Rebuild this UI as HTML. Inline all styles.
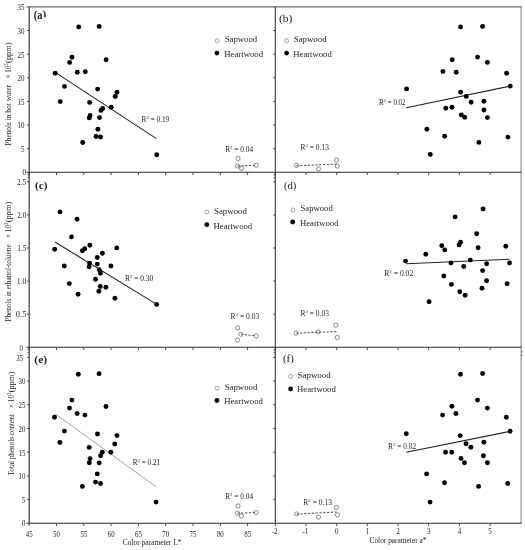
<!DOCTYPE html>
<html><head><meta charset="utf-8"><title>Figure</title>
<style>html,body{margin:0;padding:0;background:#fff}svg{display:block}text{font-family:"Liberation Serif",serif;fill:#222}</style></head><body>
<svg width="525" height="550" viewBox="0 0 525 550">
<rect x="0" y="0" width="525" height="550" fill="#fff"/>
<line x1="26.4" y1="6.8" x2="521.7" y2="6.8" stroke="#6a6a6a" stroke-width="1.2" />
<line x1="521.1" y1="6.8" x2="521.1" y2="523.3" stroke="#888" stroke-width="1.1" />
<line x1="29.2" y1="6.8" x2="29.2" y2="523.3" stroke="#4a4a4a" stroke-width="1.3" />
<line x1="275.3" y1="6.8" x2="275.3" y2="523.3" stroke="#333" stroke-width="1.1" />
<line x1="26.6" y1="172.3" x2="521.5" y2="172.3" stroke="#2a2a2a" stroke-width="1.1" />
<line x1="26.6" y1="347.3" x2="521.5" y2="347.3" stroke="#2a2a2a" stroke-width="1.1" />
<line x1="26.6" y1="523.3" x2="521.5" y2="523.3" stroke="#2a2a2a" stroke-width="1.1" />
<line x1="29.2" y1="172.3" x2="29.2" y2="175.1" stroke="#333" stroke-width="0.9" />
<line x1="56.5" y1="172.3" x2="56.5" y2="175.1" stroke="#333" stroke-width="0.9" />
<line x1="83.8" y1="172.3" x2="83.8" y2="175.1" stroke="#333" stroke-width="0.9" />
<line x1="111.1" y1="172.3" x2="111.1" y2="175.1" stroke="#333" stroke-width="0.9" />
<line x1="138.4" y1="172.3" x2="138.4" y2="175.1" stroke="#333" stroke-width="0.9" />
<line x1="165.7" y1="172.3" x2="165.7" y2="175.1" stroke="#333" stroke-width="0.9" />
<line x1="193.0" y1="172.3" x2="193.0" y2="175.1" stroke="#333" stroke-width="0.9" />
<line x1="220.3" y1="172.3" x2="220.3" y2="175.1" stroke="#333" stroke-width="0.9" />
<line x1="247.6" y1="172.3" x2="247.6" y2="175.1" stroke="#333" stroke-width="0.9" />
<line x1="275.3" y1="172.3" x2="275.3" y2="175.1" stroke="#333" stroke-width="0.9" />
<line x1="306.0" y1="172.3" x2="306.0" y2="175.1" stroke="#333" stroke-width="0.9" />
<line x1="336.7" y1="172.3" x2="336.7" y2="175.1" stroke="#333" stroke-width="0.9" />
<line x1="367.3" y1="172.3" x2="367.3" y2="175.1" stroke="#333" stroke-width="0.9" />
<line x1="398.0" y1="172.3" x2="398.0" y2="175.1" stroke="#333" stroke-width="0.9" />
<line x1="428.7" y1="172.3" x2="428.7" y2="175.1" stroke="#333" stroke-width="0.9" />
<line x1="459.4" y1="172.3" x2="459.4" y2="175.1" stroke="#333" stroke-width="0.9" />
<line x1="490.1" y1="172.3" x2="490.1" y2="175.1" stroke="#333" stroke-width="0.9" />
<line x1="29.2" y1="347.3" x2="29.2" y2="350.1" stroke="#333" stroke-width="0.9" />
<line x1="56.5" y1="347.3" x2="56.5" y2="350.1" stroke="#333" stroke-width="0.9" />
<line x1="83.8" y1="347.3" x2="83.8" y2="350.1" stroke="#333" stroke-width="0.9" />
<line x1="111.1" y1="347.3" x2="111.1" y2="350.1" stroke="#333" stroke-width="0.9" />
<line x1="138.4" y1="347.3" x2="138.4" y2="350.1" stroke="#333" stroke-width="0.9" />
<line x1="165.7" y1="347.3" x2="165.7" y2="350.1" stroke="#333" stroke-width="0.9" />
<line x1="193.0" y1="347.3" x2="193.0" y2="350.1" stroke="#333" stroke-width="0.9" />
<line x1="220.3" y1="347.3" x2="220.3" y2="350.1" stroke="#333" stroke-width="0.9" />
<line x1="247.6" y1="347.3" x2="247.6" y2="350.1" stroke="#333" stroke-width="0.9" />
<line x1="275.3" y1="347.3" x2="275.3" y2="350.1" stroke="#333" stroke-width="0.9" />
<line x1="306.0" y1="347.3" x2="306.0" y2="350.1" stroke="#333" stroke-width="0.9" />
<line x1="336.7" y1="347.3" x2="336.7" y2="350.1" stroke="#333" stroke-width="0.9" />
<line x1="367.3" y1="347.3" x2="367.3" y2="350.1" stroke="#333" stroke-width="0.9" />
<line x1="398.0" y1="347.3" x2="398.0" y2="350.1" stroke="#333" stroke-width="0.9" />
<line x1="428.7" y1="347.3" x2="428.7" y2="350.1" stroke="#333" stroke-width="0.9" />
<line x1="459.4" y1="347.3" x2="459.4" y2="350.1" stroke="#333" stroke-width="0.9" />
<line x1="490.1" y1="347.3" x2="490.1" y2="350.1" stroke="#333" stroke-width="0.9" />
<line x1="29.2" y1="523.3" x2="29.2" y2="526.1" stroke="#333" stroke-width="0.9" />
<line x1="56.5" y1="523.3" x2="56.5" y2="526.1" stroke="#333" stroke-width="0.9" />
<line x1="83.8" y1="523.3" x2="83.8" y2="526.1" stroke="#333" stroke-width="0.9" />
<line x1="111.1" y1="523.3" x2="111.1" y2="526.1" stroke="#333" stroke-width="0.9" />
<line x1="138.4" y1="523.3" x2="138.4" y2="526.1" stroke="#333" stroke-width="0.9" />
<line x1="165.7" y1="523.3" x2="165.7" y2="526.1" stroke="#333" stroke-width="0.9" />
<line x1="193.0" y1="523.3" x2="193.0" y2="526.1" stroke="#333" stroke-width="0.9" />
<line x1="220.3" y1="523.3" x2="220.3" y2="526.1" stroke="#333" stroke-width="0.9" />
<line x1="247.6" y1="523.3" x2="247.6" y2="526.1" stroke="#333" stroke-width="0.9" />
<line x1="275.3" y1="523.3" x2="275.3" y2="526.1" stroke="#333" stroke-width="0.9" />
<line x1="306.0" y1="523.3" x2="306.0" y2="526.1" stroke="#333" stroke-width="0.9" />
<line x1="336.7" y1="523.3" x2="336.7" y2="526.1" stroke="#333" stroke-width="0.9" />
<line x1="367.3" y1="523.3" x2="367.3" y2="526.1" stroke="#333" stroke-width="0.9" />
<line x1="398.0" y1="523.3" x2="398.0" y2="526.1" stroke="#333" stroke-width="0.9" />
<line x1="428.7" y1="523.3" x2="428.7" y2="526.1" stroke="#333" stroke-width="0.9" />
<line x1="459.4" y1="523.3" x2="459.4" y2="526.1" stroke="#333" stroke-width="0.9" />
<line x1="490.1" y1="523.3" x2="490.1" y2="526.1" stroke="#333" stroke-width="0.9" />
<line x1="27.1" y1="30.5" x2="29.2" y2="30.5" stroke="#333" stroke-width="0.9" />
<line x1="27.1" y1="54.2" x2="29.2" y2="54.2" stroke="#333" stroke-width="0.9" />
<line x1="27.1" y1="77.8" x2="29.2" y2="77.8" stroke="#333" stroke-width="0.9" />
<line x1="27.1" y1="101.4" x2="29.2" y2="101.4" stroke="#333" stroke-width="0.9" />
<line x1="27.1" y1="125.0" x2="29.2" y2="125.0" stroke="#333" stroke-width="0.9" />
<line x1="27.1" y1="148.7" x2="29.2" y2="148.7" stroke="#333" stroke-width="0.9" />
<line x1="27.1" y1="314.2" x2="29.2" y2="314.2" stroke="#333" stroke-width="0.9" />
<line x1="27.1" y1="281.1" x2="29.2" y2="281.1" stroke="#333" stroke-width="0.9" />
<line x1="27.1" y1="248.0" x2="29.2" y2="248.0" stroke="#333" stroke-width="0.9" />
<line x1="27.1" y1="214.9" x2="29.2" y2="214.9" stroke="#333" stroke-width="0.9" />
<line x1="27.1" y1="181.8" x2="29.2" y2="181.8" stroke="#333" stroke-width="0.9" />
<line x1="27.1" y1="499.6" x2="29.2" y2="499.6" stroke="#333" stroke-width="0.9" />
<line x1="27.1" y1="475.9" x2="29.2" y2="475.9" stroke="#333" stroke-width="0.9" />
<line x1="27.1" y1="452.2" x2="29.2" y2="452.2" stroke="#333" stroke-width="0.9" />
<line x1="27.1" y1="428.5" x2="29.2" y2="428.5" stroke="#333" stroke-width="0.9" />
<line x1="27.1" y1="404.8" x2="29.2" y2="404.8" stroke="#333" stroke-width="0.9" />
<line x1="27.1" y1="381.1" x2="29.2" y2="381.1" stroke="#333" stroke-width="0.9" />
<line x1="27.1" y1="357.4" x2="29.2" y2="357.4" stroke="#333" stroke-width="0.9" />
<line x1="273.2" y1="30.5" x2="275.3" y2="30.5" stroke="#333" stroke-width="0.9" />
<line x1="273.2" y1="54.2" x2="275.3" y2="54.2" stroke="#333" stroke-width="0.9" />
<line x1="273.2" y1="77.8" x2="275.3" y2="77.8" stroke="#333" stroke-width="0.9" />
<line x1="273.2" y1="101.4" x2="275.3" y2="101.4" stroke="#333" stroke-width="0.9" />
<line x1="273.2" y1="125.0" x2="275.3" y2="125.0" stroke="#333" stroke-width="0.9" />
<line x1="273.2" y1="148.7" x2="275.3" y2="148.7" stroke="#333" stroke-width="0.9" />
<line x1="273.2" y1="314.2" x2="275.3" y2="314.2" stroke="#333" stroke-width="0.9" />
<line x1="273.2" y1="281.1" x2="275.3" y2="281.1" stroke="#333" stroke-width="0.9" />
<line x1="273.2" y1="248.0" x2="275.3" y2="248.0" stroke="#333" stroke-width="0.9" />
<line x1="273.2" y1="214.9" x2="275.3" y2="214.9" stroke="#333" stroke-width="0.9" />
<line x1="273.2" y1="181.8" x2="275.3" y2="181.8" stroke="#333" stroke-width="0.9" />
<line x1="273.2" y1="499.6" x2="275.3" y2="499.6" stroke="#333" stroke-width="0.9" />
<line x1="273.2" y1="475.9" x2="275.3" y2="475.9" stroke="#333" stroke-width="0.9" />
<line x1="273.2" y1="452.2" x2="275.3" y2="452.2" stroke="#333" stroke-width="0.9" />
<line x1="273.2" y1="428.5" x2="275.3" y2="428.5" stroke="#333" stroke-width="0.9" />
<line x1="273.2" y1="404.8" x2="275.3" y2="404.8" stroke="#333" stroke-width="0.9" />
<line x1="273.2" y1="381.1" x2="275.3" y2="381.1" stroke="#333" stroke-width="0.9" />
<line x1="273.2" y1="357.4" x2="275.3" y2="357.4" stroke="#333" stroke-width="0.9" />
<line x1="27.6" y1="175.0" x2="29.2" y2="175.0" stroke="#333" stroke-width="0.9" />
<line x1="27.6" y1="177.7" x2="29.2" y2="177.7" stroke="#333" stroke-width="0.9" />
<line x1="27.6" y1="350.0" x2="29.2" y2="350.0" stroke="#333" stroke-width="0.9" />
<line x1="27.6" y1="352.7" x2="29.2" y2="352.7" stroke="#333" stroke-width="0.9" />
<line x1="273.7" y1="175.0" x2="275.3" y2="175.0" stroke="#333" stroke-width="0.9" />
<line x1="273.7" y1="177.7" x2="275.3" y2="177.7" stroke="#333" stroke-width="0.9" />
<line x1="273.7" y1="350.0" x2="275.3" y2="350.0" stroke="#333" stroke-width="0.9" />
<line x1="273.7" y1="352.7" x2="275.3" y2="352.7" stroke="#333" stroke-width="0.9" />
<line x1="521.1" y1="351.8" x2="522.3" y2="351.8" stroke="#333" stroke-width="0.9" />
<line x1="521.1" y1="355.3" x2="522.3" y2="355.3" stroke="#333" stroke-width="0.9" />
<text transform="translate(17.60,10.30) scale(0.9211,1.0)" font-size="7.6" xml:space="preserve">35</text>
<text transform="translate(17.60,33.80) scale(0.9211,1.0)" font-size="7.6" xml:space="preserve">30</text>
<text transform="translate(17.60,57.50) scale(0.9211,1.0)" font-size="7.6" xml:space="preserve">25</text>
<text transform="translate(17.60,81.10) scale(0.9211,1.0)" font-size="7.6" xml:space="preserve">20</text>
<text transform="translate(17.60,104.80) scale(0.9211,1.0)" font-size="7.6" xml:space="preserve">15</text>
<text transform="translate(17.60,128.40) scale(0.9211,1.0)" font-size="7.6" xml:space="preserve">10</text>
<text transform="translate(20.90,151.90) scale(0.9211,1.0)" font-size="7.6" xml:space="preserve">5</text>
<text transform="translate(22.60,175.30) scale(0.9737,1.0)" font-size="7.6" xml:space="preserve">0</text>
<text transform="translate(17.10,184.70) scale(0.9474,1.0)" font-size="7.6" xml:space="preserve">2.5</text>
<text transform="translate(17.20,217.90) scale(0.9684,1.0)" font-size="7.6" xml:space="preserve">2.0</text>
<text transform="translate(17.20,251.10) scale(0.9684,1.0)" font-size="7.6" xml:space="preserve">1.5</text>
<text transform="translate(16.80,284.30) scale(1.0105,1.0)" font-size="7.6" xml:space="preserve">1.0</text>
<text transform="translate(15.80,317.40) scale(1.1158,1.0)" font-size="7.6" xml:space="preserve">0.5</text>
<text transform="translate(19.50,350.80) scale(0.9211,1.0)" font-size="7.6" xml:space="preserve">0</text>
<text transform="translate(16.20,361.40) scale(0.8947,1.0)" font-size="7.6" xml:space="preserve">35</text>
<text transform="translate(18.60,384.30) scale(0.9079,1.0)" font-size="7.6" xml:space="preserve">30</text>
<text transform="translate(18.60,408.10) scale(0.9079,1.0)" font-size="7.6" xml:space="preserve">25</text>
<text transform="translate(18.60,431.80) scale(0.9079,1.0)" font-size="7.6" xml:space="preserve">20</text>
<text transform="translate(18.60,455.60) scale(0.9079,1.0)" font-size="7.6" xml:space="preserve">15</text>
<text transform="translate(18.60,479.40) scale(0.9079,1.0)" font-size="7.6" xml:space="preserve">10</text>
<text transform="translate(21.80,503.10) scale(0.8947,1.0)" font-size="7.6" xml:space="preserve">5</text>
<text transform="translate(21.80,526.30) scale(0.9737,1.0)" font-size="7.6" xml:space="preserve">0</text>
<text transform="translate(25.80,536.55) scale(0.9079,1.0)" font-size="7.6" xml:space="preserve">45</text>
<text transform="translate(53.10,536.55) scale(0.9079,1.0)" font-size="7.6" xml:space="preserve">50</text>
<text transform="translate(80.40,536.55) scale(0.9079,1.0)" font-size="7.6" xml:space="preserve">55</text>
<text transform="translate(107.70,536.55) scale(0.9079,1.0)" font-size="7.6" xml:space="preserve">60</text>
<text transform="translate(135.00,536.55) scale(0.9079,1.0)" font-size="7.6" xml:space="preserve">65</text>
<text transform="translate(162.30,536.55) scale(0.9079,1.0)" font-size="7.6" xml:space="preserve">70</text>
<text transform="translate(189.60,536.55) scale(0.9079,1.0)" font-size="7.6" xml:space="preserve">75</text>
<text transform="translate(216.90,536.55) scale(0.9079,1.0)" font-size="7.6" xml:space="preserve">80</text>
<text transform="translate(244.20,536.55) scale(0.9079,1.0)" font-size="7.6" xml:space="preserve">85</text>
<text transform="translate(271.70,533.75) scale(0.9162,1.0)" font-size="7.6" xml:space="preserve">-2</text>
<text transform="translate(302.38,533.75) scale(0.9162,1.0)" font-size="7.6" xml:space="preserve">-1</text>
<text transform="translate(334.96,533.75) scale(0.9211,1.0)" font-size="7.6" xml:space="preserve">0</text>
<text transform="translate(365.64,533.75) scale(0.9211,1.0)" font-size="7.6" xml:space="preserve">1</text>
<text transform="translate(396.32,533.75) scale(0.9211,1.0)" font-size="7.6" xml:space="preserve">2</text>
<text transform="translate(427.00,533.75) scale(0.9211,1.0)" font-size="7.6" xml:space="preserve">3</text>
<text transform="translate(457.68,533.75) scale(0.9211,1.0)" font-size="7.6" xml:space="preserve">4</text>
<text transform="translate(488.36,533.75) scale(0.9211,1.0)" font-size="7.6" xml:space="preserve">5</text>
<text transform="translate(122.80,545.20) scale(0.9794,1.0)" font-size="7.6" xml:space="preserve">Color parameter L*</text>
<text transform="translate(369.50,543.20) scale(0.9716,1.0)" font-size="7.6" xml:space="preserve">Color parameter a*</text>
<text transform="translate(10.80,145.40) rotate(-90) scale(0.9230,0.97)" font-size="8" xml:space="preserve">Phenols in hot water</text>
<text transform="translate(10.80,78.60) rotate(-90) scale(0.8862,0.97)" font-size="8" xml:space="preserve">× 10<tspan font-size="5.28" dy="-3.20">3</tspan><tspan dy="3.20" font-size="8">&#8203;</tspan></text>
<text transform="translate(10.80,62.90) rotate(-90) scale(1.0435,0.97)" font-size="8" xml:space="preserve">(ppm)</text>
<text transform="translate(10.80,321.60) rotate(-90) scale(0.9072,0.97)" font-size="8" xml:space="preserve">Phenols in ethanol-toluene</text>
<text transform="translate(10.80,237.90) rotate(-90) scale(0.8862,0.97)" font-size="8" xml:space="preserve">× 10<tspan font-size="5.28" dy="-3.20">3</tspan><tspan dy="3.20" font-size="8">&#8203;</tspan></text>
<text transform="translate(10.80,222.20) rotate(-90) scale(1.0435,0.97)" font-size="8" xml:space="preserve">(ppm)</text>
<text transform="translate(13.70,475.50) rotate(-90) scale(0.8915,0.97)" font-size="8" xml:space="preserve">Total phenols content</text>
<text transform="translate(13.70,407.90) rotate(-90) scale(0.8862,0.97)" font-size="8" xml:space="preserve">× 10<tspan font-size="5.28" dy="-3.20">3</tspan><tspan dy="3.20" font-size="8">&#8203;</tspan></text>
<text transform="translate(13.70,392.20) rotate(-90) scale(1.0435,0.97)" font-size="8" xml:space="preserve">(ppm)</text>
<text transform="translate(33.70,19.30) scale(0.9004,1.0)" font-size="11.6" font-weight="bold" xml:space="preserve">(a</text>
<clipPath id="ca"><rect x="42" y="8" width="5" height="9.2"/></clipPath>
<g clip-path="url(#ca)">
<text transform="translate(42.50,19.30) scale(0.9838,1.0)" font-size="11.6" font-weight="bold" xml:space="preserve">)</text>
</g>
<text transform="translate(34.90,189.00) scale(1.0429,1.0)" font-size="10.8" font-weight="bold" xml:space="preserve">(c)</text>
<text transform="translate(34.30,363.30) scale(1.0679,1.0)" font-size="10.8" font-weight="bold" xml:space="preserve">(e)</text>
<text transform="translate(278.90,21.80) scale(1.0800,1.0)" font-size="10.8" xml:space="preserve">(b)</text>
<text transform="translate(283.90,188.70) scale(0.9927,1.0)" font-size="10.8" xml:space="preserve">(d)</text>
<text transform="translate(282.90,362.00) scale(1.0104,1.0)" font-size="10.8" xml:space="preserve">(f)</text>
<circle cx="217.2" cy="40.8" r="2" fill="#fff" stroke="#777" stroke-width="0.7"/>
<circle cx="216.9" cy="53.1" r="2.4" fill="#000"/>
<text transform="translate(224.70,42.20) scale(0.9702,1.0)" font-size="9" xml:space="preserve">Sapwood</text>
<text transform="translate(224.20,56.80) scale(0.9753,1.0)" font-size="9" xml:space="preserve">Heartwood</text>
<circle cx="286.6" cy="40.8" r="2" fill="#fff" stroke="#777" stroke-width="0.7"/>
<circle cx="286.6" cy="53.1" r="2.4" fill="#000"/>
<text transform="translate(293.80,42.20) scale(0.9791,1.0)" font-size="9" xml:space="preserve">Sapwood</text>
<text transform="translate(293.30,56.80) scale(0.9628,1.0)" font-size="9" xml:space="preserve">Heartwood</text>
<circle cx="206.8" cy="212.1" r="2" fill="#fff" stroke="#777" stroke-width="0.7"/>
<circle cx="206.8" cy="224.7" r="2.4" fill="#000"/>
<text transform="translate(214.00,214.10) scale(0.9851,1.0)" font-size="9" xml:space="preserve">Sapwood</text>
<text transform="translate(213.50,228.70) scale(0.9678,1.0)" font-size="9" xml:space="preserve">Heartwood</text>
<circle cx="293.0" cy="210.0" r="2" fill="#fff" stroke="#777" stroke-width="0.7"/>
<circle cx="292.7" cy="222.0" r="2.4" fill="#000"/>
<text transform="translate(300.50,211.40) scale(0.9642,1.0)" font-size="9" xml:space="preserve">Sapwood</text>
<text transform="translate(300.00,226.00) scale(0.9603,1.0)" font-size="9" xml:space="preserve">Heartwood</text>
<circle cx="217.2" cy="388.2" r="2" fill="#fff" stroke="#777" stroke-width="0.7"/>
<circle cx="216.9" cy="400.5" r="2.4" fill="#000"/>
<text transform="translate(224.70,389.60) scale(0.9761,1.0)" font-size="9" xml:space="preserve">Sapwood</text>
<text transform="translate(224.20,404.20) scale(0.9678,1.0)" font-size="9" xml:space="preserve">Heartwood</text>
<circle cx="290.6" cy="376.3" r="2" fill="#fff" stroke="#777" stroke-width="0.7"/>
<circle cx="290.6" cy="388.9" r="2.4" fill="#000"/>
<text transform="translate(297.50,377.70) scale(0.9940,1.0)" font-size="9" xml:space="preserve">Sapwood</text>
<text transform="translate(297.00,392.30) scale(0.9728,1.0)" font-size="9" xml:space="preserve">Heartwood</text>
<text transform="translate(141.60,121.90) scale(0.9529,1.0)" font-size="7.6" fill="#333" xml:space="preserve">R<tspan font-size="5.02" dy="-3.04">2</tspan><tspan dy="3.04" font-size="7.6">&#8203;</tspan> = 0.19</text>
<text transform="translate(225.20,151.60) scale(0.9667,1.0)" font-size="7.6" fill="#333" xml:space="preserve">R<tspan font-size="5.02" dy="-3.04">2</tspan><tspan dy="3.04" font-size="7.6">&#8203;</tspan> = 0.04</text>
<text transform="translate(379.10,104.60) scale(0.9150,1.0)" font-size="7.6" fill="#333" xml:space="preserve">R<tspan font-size="5.02" dy="-3.04">2</tspan><tspan dy="3.04" font-size="7.6">&#8203;</tspan> = 0.02</text>
<text transform="translate(300.50,149.60) scale(0.9840,1.0)" font-size="7.6" fill="#333" xml:space="preserve">R<tspan font-size="5.02" dy="-3.04">2</tspan><tspan dy="3.04" font-size="7.6">&#8203;</tspan> = 0.13</text>
<text transform="translate(124.90,280.80) scale(0.9840,1.0)" font-size="7.6" fill="#333" xml:space="preserve">R<tspan font-size="5.02" dy="-3.04">2</tspan><tspan dy="3.04" font-size="7.6">&#8203;</tspan> = 0.30</text>
<text transform="translate(230.50,319.10) scale(0.9944,1.0)" font-size="7.6" fill="#333" xml:space="preserve">R<tspan font-size="5.02" dy="-3.04">2</tspan><tspan dy="3.04" font-size="7.6">&#8203;</tspan> = 0.03</text>
<text transform="translate(384.20,276.20) scale(1.0013,1.0)" font-size="7.6" fill="#333" xml:space="preserve">R<tspan font-size="5.02" dy="-3.04">2</tspan><tspan dy="3.04" font-size="7.6">&#8203;</tspan> = 0.02</text>
<text transform="translate(300.50,316.20) scale(0.9840,1.0)" font-size="7.6" fill="#333" xml:space="preserve">R<tspan font-size="5.02" dy="-3.04">2</tspan><tspan dy="3.04" font-size="7.6">&#8203;</tspan> = 0.03</text>
<text transform="translate(132.70,464.80) scale(0.9495,1.0)" font-size="7.6" fill="#333" xml:space="preserve">R<tspan font-size="5.02" dy="-3.04">2</tspan><tspan dy="3.04" font-size="7.6">&#8203;</tspan> = 0.21</text>
<text transform="translate(225.20,499.20) scale(0.9667,1.0)" font-size="7.6" fill="#333" xml:space="preserve">R<tspan font-size="5.02" dy="-3.04">2</tspan><tspan dy="3.04" font-size="7.6">&#8203;</tspan> = 0.04</text>
<text transform="translate(388.00,448.70) scale(0.9737,1.0)" font-size="7.6" fill="#333" xml:space="preserve">R<tspan font-size="5.02" dy="-3.04">2</tspan><tspan dy="3.04" font-size="7.6">&#8203;</tspan> = 0.02</text>
<text transform="translate(303.30,504.60) scale(0.9944,1.0)" font-size="7.6" fill="#333" xml:space="preserve">R<tspan font-size="5.02" dy="-3.04">2</tspan><tspan dy="3.04" font-size="7.6">&#8203;</tspan> = 0.13</text>
<line x1="55.6" y1="72.6" x2="156.4" y2="138.6" stroke="#222" stroke-width="1.1" />
<line x1="406.3" y1="107.7" x2="510.3" y2="86.1" stroke="#222" stroke-width="1.1" />
<line x1="54.9" y1="242.0" x2="156.7" y2="304.4" stroke="#222" stroke-width="1.1" />
<line x1="406.3" y1="263.8" x2="509.5" y2="259.3" stroke="#222" stroke-width="1.1" />
<line x1="55.3" y1="414.0" x2="156.1" y2="486.7" stroke="#888" stroke-width="0.8" />
<line x1="406.3" y1="452.3" x2="510.1" y2="431.3" stroke="#222" stroke-width="1.1" />
<line x1="237.5" y1="166.0" x2="256.1" y2="165.2" stroke="#333" stroke-width="0.9" stroke-dasharray="2.2 1.6"/>
<line x1="296.5" y1="165.8" x2="337.0" y2="164.0" stroke="#333" stroke-width="0.9" stroke-dasharray="2.2 1.6"/>
<line x1="240.9" y1="334.2" x2="256.1" y2="335.9" stroke="#333" stroke-width="0.9" stroke-dasharray="2.2 1.6"/>
<line x1="296.2" y1="333.2" x2="336.5" y2="331.6" stroke="#333" stroke-width="0.9" stroke-dasharray="2.2 1.6"/>
<line x1="237.5" y1="513.3" x2="256.1" y2="512.5" stroke="#333" stroke-width="0.9" stroke-dasharray="2.2 1.6"/>
<line x1="296.7" y1="514.1" x2="336.7" y2="512.0" stroke="#333" stroke-width="0.9" stroke-dasharray="2.2 1.6"/>
<circle cx="238" cy="158.5" r="2.1" fill="none" stroke="#666" stroke-width="0.75"/>
<circle cx="237.5" cy="166" r="2.1" fill="none" stroke="#666" stroke-width="0.75"/>
<circle cx="241.5" cy="168.4" r="2.1" fill="none" stroke="#666" stroke-width="0.75"/>
<circle cx="256.1" cy="165.2" r="2.1" fill="none" stroke="#666" stroke-width="0.75"/>
<circle cx="296.5" cy="165.3" r="2.1" fill="none" stroke="#666" stroke-width="0.75"/>
<circle cx="318.6" cy="168.8" r="2.1" fill="none" stroke="#666" stroke-width="0.75"/>
<circle cx="336.5" cy="160" r="2.1" fill="none" stroke="#666" stroke-width="0.75"/>
<circle cx="337.3" cy="166.1" r="2.1" fill="none" stroke="#666" stroke-width="0.75"/>
<circle cx="237.6" cy="327.8" r="2.1" fill="none" stroke="#666" stroke-width="0.75"/>
<circle cx="240.9" cy="334.2" r="2.1" fill="none" stroke="#666" stroke-width="0.75"/>
<circle cx="256.1" cy="335.9" r="2.1" fill="none" stroke="#666" stroke-width="0.75"/>
<circle cx="237.6" cy="340.1" r="2.1" fill="none" stroke="#666" stroke-width="0.75"/>
<circle cx="296.2" cy="333.2" r="2.1" fill="none" stroke="#666" stroke-width="0.75"/>
<circle cx="318.3" cy="331.9" r="2.1" fill="none" stroke="#666" stroke-width="0.75"/>
<circle cx="335.9" cy="325.2" r="2.1" fill="none" stroke="#666" stroke-width="0.75"/>
<circle cx="337.3" cy="337.5" r="2.1" fill="none" stroke="#666" stroke-width="0.75"/>
<circle cx="238" cy="505.9" r="2.1" fill="none" stroke="#666" stroke-width="0.75"/>
<circle cx="237.5" cy="513.3" r="2.1" fill="none" stroke="#666" stroke-width="0.75"/>
<circle cx="241.5" cy="516" r="2.1" fill="none" stroke="#666" stroke-width="0.75"/>
<circle cx="256.1" cy="512.5" r="2.1" fill="none" stroke="#666" stroke-width="0.75"/>
<circle cx="296.7" cy="513.9" r="2.1" fill="none" stroke="#666" stroke-width="0.75"/>
<circle cx="318.5" cy="517.1" r="2.1" fill="none" stroke="#666" stroke-width="0.75"/>
<circle cx="336.4" cy="507.5" r="2.1" fill="none" stroke="#666" stroke-width="0.75"/>
<circle cx="337.5" cy="514.9" r="2.1" fill="none" stroke="#666" stroke-width="0.75"/>
<circle cx="78.7" cy="26.9" r="2.45" fill="#000"/>
<circle cx="99.2" cy="26.4" r="2.45" fill="#000"/>
<circle cx="55.2" cy="73.3" r="2.45" fill="#000"/>
<circle cx="72" cy="57.3" r="2.45" fill="#000"/>
<circle cx="69.6" cy="62.4" r="2.45" fill="#000"/>
<circle cx="77.3" cy="72.3" r="2.45" fill="#000"/>
<circle cx="85.3" cy="71.7" r="2.45" fill="#000"/>
<circle cx="106.1" cy="59.7" r="2.45" fill="#000"/>
<circle cx="64.5" cy="86.4" r="2.45" fill="#000"/>
<circle cx="60.3" cy="101.6" r="2.45" fill="#000"/>
<circle cx="97.6" cy="89.1" r="2.45" fill="#000"/>
<circle cx="117" cy="92.3" r="2.45" fill="#000"/>
<circle cx="115.2" cy="96.5" r="2.45" fill="#000"/>
<circle cx="89.6" cy="102.4" r="2.45" fill="#000"/>
<circle cx="111.2" cy="107.2" r="2.45" fill="#000"/>
<circle cx="102.7" cy="108.5" r="2.45" fill="#000"/>
<circle cx="101" cy="110.4" r="2.45" fill="#000"/>
<circle cx="90.1" cy="115.5" r="2.45" fill="#000"/>
<circle cx="89.3" cy="117.9" r="2.45" fill="#000"/>
<circle cx="99.5" cy="117.6" r="2.45" fill="#000"/>
<circle cx="97.9" cy="129.3" r="2.45" fill="#000"/>
<circle cx="96" cy="136.5" r="2.45" fill="#000"/>
<circle cx="100.5" cy="137" r="2.45" fill="#000"/>
<circle cx="82.7" cy="142.5" r="2.45" fill="#000"/>
<circle cx="156.7" cy="154.7" r="2.45" fill="#000"/>
<circle cx="460.5" cy="26.9" r="2.45" fill="#000"/>
<circle cx="482.6" cy="26.4" r="2.45" fill="#000"/>
<circle cx="452.2" cy="59.7" r="2.45" fill="#000"/>
<circle cx="477.5" cy="57.1" r="2.45" fill="#000"/>
<circle cx="487.4" cy="62.4" r="2.45" fill="#000"/>
<circle cx="442.9" cy="71.5" r="2.45" fill="#000"/>
<circle cx="456.2" cy="72.3" r="2.45" fill="#000"/>
<circle cx="506.6" cy="73.3" r="2.45" fill="#000"/>
<circle cx="406.6" cy="88.9" r="2.45" fill="#000"/>
<circle cx="510.3" cy="86.1" r="2.45" fill="#000"/>
<circle cx="460.5" cy="92.3" r="2.45" fill="#000"/>
<circle cx="466.3" cy="96.4" r="2.45" fill="#000"/>
<circle cx="471.1" cy="102.2" r="2.45" fill="#000"/>
<circle cx="483.9" cy="101.3" r="2.45" fill="#000"/>
<circle cx="451.9" cy="107.2" r="2.45" fill="#000"/>
<circle cx="445.8" cy="108.3" r="2.45" fill="#000"/>
<circle cx="483.9" cy="110.0" r="2.45" fill="#000"/>
<circle cx="461.3" cy="114.9" r="2.45" fill="#000"/>
<circle cx="464.7" cy="117.3" r="2.45" fill="#000"/>
<circle cx="487.4" cy="117.6" r="2.45" fill="#000"/>
<circle cx="426.9" cy="129.3" r="2.45" fill="#000"/>
<circle cx="444.7" cy="136.3" r="2.45" fill="#000"/>
<circle cx="507.9" cy="137.1" r="2.45" fill="#000"/>
<circle cx="478.9" cy="142.4" r="2.45" fill="#000"/>
<circle cx="430.3" cy="154.4" r="2.45" fill="#000"/>
<circle cx="71.5" cy="236.9" r="2.45" fill="#000"/>
<circle cx="54.7" cy="249.2" r="2.45" fill="#000"/>
<circle cx="89.9" cy="245.2" r="2.45" fill="#000"/>
<circle cx="84.8" cy="248.7" r="2.45" fill="#000"/>
<circle cx="82.4" cy="250.8" r="2.45" fill="#000"/>
<circle cx="116.8" cy="247.9" r="2.45" fill="#000"/>
<circle cx="102.4" cy="253.2" r="2.45" fill="#000"/>
<circle cx="97.3" cy="257.5" r="2.45" fill="#000"/>
<circle cx="89.6" cy="263.1" r="2.45" fill="#000"/>
<circle cx="97.3" cy="264.1" r="2.45" fill="#000"/>
<circle cx="89.1" cy="266.8" r="2.45" fill="#000"/>
<circle cx="64.3" cy="266" r="2.45" fill="#000"/>
<circle cx="110.9" cy="266" r="2.45" fill="#000"/>
<circle cx="99.2" cy="269.7" r="2.45" fill="#000"/>
<circle cx="100.5" cy="273.2" r="2.45" fill="#000"/>
<circle cx="95.5" cy="279.3" r="2.45" fill="#000"/>
<circle cx="69.3" cy="283.6" r="2.45" fill="#000"/>
<circle cx="100.3" cy="286.5" r="2.45" fill="#000"/>
<circle cx="105.9" cy="287.3" r="2.45" fill="#000"/>
<circle cx="98.9" cy="291.3" r="2.45" fill="#000"/>
<circle cx="78.1" cy="294.3" r="2.45" fill="#000"/>
<circle cx="114.9" cy="298.3" r="2.45" fill="#000"/>
<circle cx="60" cy="211.9" r="2.45" fill="#000"/>
<circle cx="77.1" cy="219.3" r="2.45" fill="#000"/>
<circle cx="156.7" cy="304.4" r="2.45" fill="#000"/>
<circle cx="483.1" cy="208.9" r="2.45" fill="#000"/>
<circle cx="455.1" cy="216.9" r="2.45" fill="#000"/>
<circle cx="476.7" cy="233.7" r="2.45" fill="#000"/>
<circle cx="460.5" cy="242.2" r="2.45" fill="#000"/>
<circle cx="459.1" cy="244.9" r="2.45" fill="#000"/>
<circle cx="441.8" cy="245.7" r="2.45" fill="#000"/>
<circle cx="444.7" cy="249.9" r="2.45" fill="#000"/>
<circle cx="478.1" cy="247.8" r="2.45" fill="#000"/>
<circle cx="505.8" cy="246.2" r="2.45" fill="#000"/>
<circle cx="425.8" cy="254.2" r="2.45" fill="#000"/>
<circle cx="405.5" cy="261.1" r="2.45" fill="#000"/>
<circle cx="450.9" cy="263" r="2.45" fill="#000"/>
<circle cx="470.3" cy="260.1" r="2.45" fill="#000"/>
<circle cx="486.6" cy="263.8" r="2.45" fill="#000"/>
<circle cx="509.5" cy="263" r="2.45" fill="#000"/>
<circle cx="463.7" cy="266.5" r="2.45" fill="#000"/>
<circle cx="482.6" cy="270.6" r="2.45" fill="#000"/>
<circle cx="443.8" cy="276.0" r="2.45" fill="#000"/>
<circle cx="486.6" cy="280.7" r="2.45" fill="#000"/>
<circle cx="451.4" cy="284.4" r="2.45" fill="#000"/>
<circle cx="507.1" cy="283.7" r="2.45" fill="#000"/>
<circle cx="482" cy="288.3" r="2.45" fill="#000"/>
<circle cx="459.8" cy="291.8" r="2.45" fill="#000"/>
<circle cx="465.1" cy="295.3" r="2.45" fill="#000"/>
<circle cx="429.1" cy="301.7" r="2.45" fill="#000"/>
<circle cx="78.3" cy="374.3" r="2.45" fill="#000"/>
<circle cx="99.1" cy="373.7" r="2.45" fill="#000"/>
<circle cx="71.9" cy="400.1" r="2.45" fill="#000"/>
<circle cx="69.5" cy="408.1" r="2.45" fill="#000"/>
<circle cx="106" cy="406.5" r="2.45" fill="#000"/>
<circle cx="77.2" cy="413.5" r="2.45" fill="#000"/>
<circle cx="84.9" cy="415.1" r="2.45" fill="#000"/>
<circle cx="54.5" cy="417.2" r="2.45" fill="#000"/>
<circle cx="64.4" cy="431.1" r="2.45" fill="#000"/>
<circle cx="97.5" cy="434" r="2.45" fill="#000"/>
<circle cx="116.9" cy="435.6" r="2.45" fill="#000"/>
<circle cx="59.9" cy="442.5" r="2.45" fill="#000"/>
<circle cx="114.8" cy="444.0" r="2.45" fill="#000"/>
<circle cx="89.2" cy="447.4" r="2.45" fill="#000"/>
<circle cx="102.3" cy="452.3" r="2.45" fill="#000"/>
<circle cx="110.8" cy="452.3" r="2.45" fill="#000"/>
<circle cx="100.6" cy="455.7" r="2.45" fill="#000"/>
<circle cx="90" cy="458.6" r="2.45" fill="#000"/>
<circle cx="89.3" cy="462.7" r="2.45" fill="#000"/>
<circle cx="99.2" cy="462.9" r="2.45" fill="#000"/>
<circle cx="97.3" cy="473.9" r="2.45" fill="#000"/>
<circle cx="95.5" cy="482.1" r="2.45" fill="#000"/>
<circle cx="100.5" cy="483.5" r="2.45" fill="#000"/>
<circle cx="82.4" cy="486.4" r="2.45" fill="#000"/>
<circle cx="156.1" cy="502.1" r="2.45" fill="#000"/>
<circle cx="460.5" cy="374.3" r="2.45" fill="#000"/>
<circle cx="482.6" cy="373.5" r="2.45" fill="#000"/>
<circle cx="477.5" cy="400.1" r="2.45" fill="#000"/>
<circle cx="451.9" cy="406.3" r="2.45" fill="#000"/>
<circle cx="487.4" cy="408.1" r="2.45" fill="#000"/>
<circle cx="442.6" cy="415.1" r="2.45" fill="#000"/>
<circle cx="455.9" cy="413.5" r="2.45" fill="#000"/>
<circle cx="506.3" cy="417.2" r="2.45" fill="#000"/>
<circle cx="406.3" cy="433.7" r="2.45" fill="#000"/>
<circle cx="510.1" cy="431.3" r="2.45" fill="#000"/>
<circle cx="460.2" cy="435.6" r="2.45" fill="#000"/>
<circle cx="466.0" cy="443.8" r="2.45" fill="#000"/>
<circle cx="483.9" cy="442.3" r="2.45" fill="#000"/>
<circle cx="470.9" cy="447.3" r="2.45" fill="#000"/>
<circle cx="445.5" cy="452.2" r="2.45" fill="#000"/>
<circle cx="451.7" cy="452.2" r="2.45" fill="#000"/>
<circle cx="483.4" cy="455.8" r="2.45" fill="#000"/>
<circle cx="461" cy="458.4" r="2.45" fill="#000"/>
<circle cx="464.5" cy="462.7" r="2.45" fill="#000"/>
<circle cx="487.4" cy="462.7" r="2.45" fill="#000"/>
<circle cx="426.6" cy="473.9" r="2.45" fill="#000"/>
<circle cx="444.5" cy="482.7" r="2.45" fill="#000"/>
<circle cx="507.7" cy="483.5" r="2.45" fill="#000"/>
<circle cx="478.6" cy="486.4" r="2.45" fill="#000"/>
<circle cx="430.1" cy="502.1" r="2.45" fill="#000"/>
</svg></body></html>
